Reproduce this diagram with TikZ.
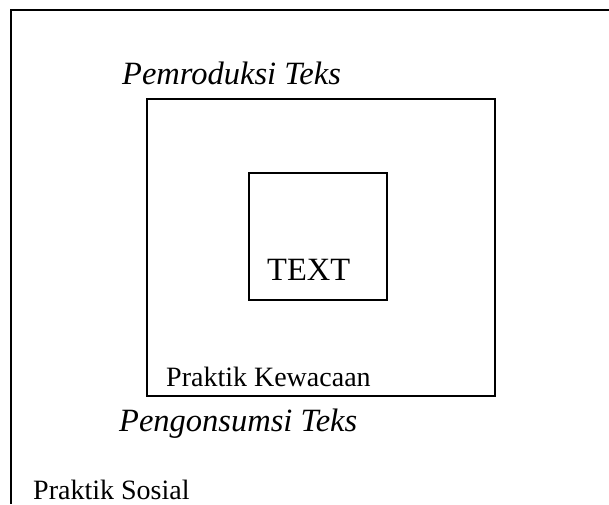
\documentclass[tikz,border=0pt]{standalone}
\usepackage{fontspec}
\setmainfont{Liberation Serif}
\tikzset{
  frameline/.style={line width=2pt, black},
  boxnode/.style={draw, line width=1.8pt, inner sep=0pt, anchor=north west},
  lbl/.style={anchor=base west, inner sep=0pt, font=\fontsize{28}{31}\selectfont},
  ilbl/.style={anchor=base west, inner sep=0pt, font=\fontsize{32.5}{35}\selectfont\itshape}
}
\begin{document}
\begin{tikzpicture}[x=1pt,y=-1pt]
\useasboundingbox (0,0) rectangle (609,504);
\coordinate (tr) at (609,9.5);
\coordinate (tl) at (10.5,9.5);
\coordinate (bl) at (10.5,504);
\draw[frameline] (tr) -- (tl) -- (bl);
\node[boxnode, minimum width=348pt, minimum height=297pt] (mid) at (146,98) {};
\node[boxnode, minimum width=138pt, minimum height=127pt] (inner) at (248,172) {};
\node[ilbl] (prod) at (122,84) {Pemroduksi Teks};
\node[lbl, font=\fontsize{32.5}{35}\selectfont] (text) at (267,280) {TEXT};
\node[lbl] (kew) at (166,386) {Praktik Kewacaan};
\node[ilbl] (kons) at (119,431) {Pengonsumsi Teks};
\node[lbl] (sos) at (33,499) {Praktik Sosial};
\end{tikzpicture}
\end{document}
